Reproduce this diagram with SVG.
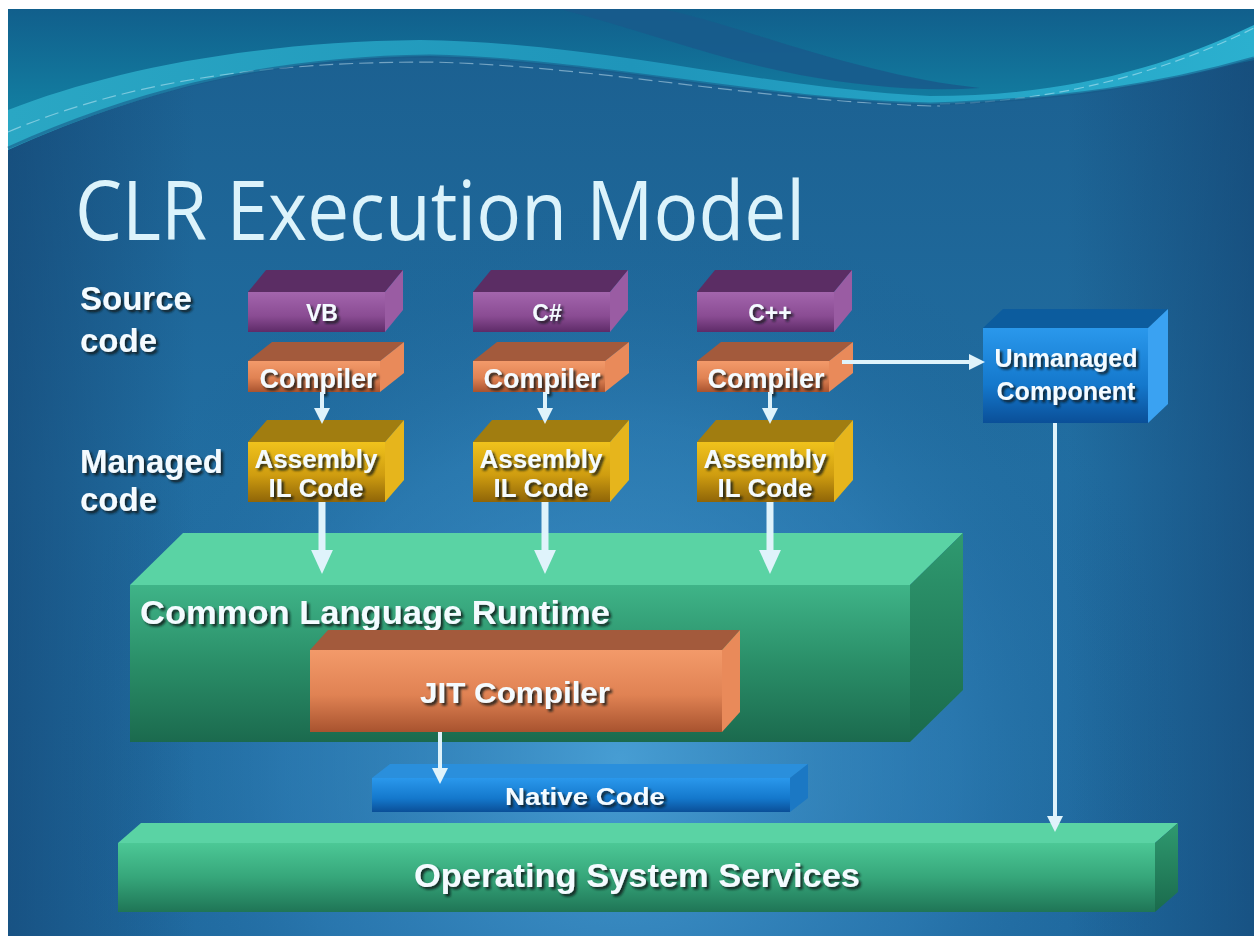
<svg xmlns="http://www.w3.org/2000/svg" width="1254" height="936" viewBox="0 0 1254 936">
<defs>
<linearGradient id="bgV" x1="0" y1="0" x2="0" y2="1">
<stop offset="0" stop-color="#1b5f8f"/><stop offset="0.5" stop-color="#216ea2"/><stop offset="1" stop-color="#1f6aa0"/>
</linearGradient>
<radialGradient id="glow" cx="620" cy="760" r="560" gradientUnits="userSpaceOnUse">
<stop offset="0" stop-color="#4ea6dc" stop-opacity="0.85"/><stop offset="0.6" stop-color="#3a8cc6" stop-opacity="0.35"/><stop offset="1" stop-color="#1b5a8a" stop-opacity="0"/>
</radialGradient>
<linearGradient id="edgeH" x1="0" y1="0" x2="1" y2="0">
<stop offset="0" stop-color="#123f6c" stop-opacity="0.55"/><stop offset="0.15" stop-color="#123f6c" stop-opacity="0"/><stop offset="0.85" stop-color="#123f6c" stop-opacity="0"/><stop offset="1" stop-color="#123f6c" stop-opacity="0.55"/>
</linearGradient>
<linearGradient id="topTeal" x1="0" y1="0" x2="0" y2="1">
<stop offset="0" stop-color="#115f8c"/><stop offset="1" stop-color="#138aa9"/>
</linearGradient>
<linearGradient id="band" x1="0" y1="0" x2="1" y2="0">
<stop offset="0" stop-color="#2aa7c4"/><stop offset="0.5" stop-color="#1f95ba"/><stop offset="1" stop-color="#2bb0cf"/>
</linearGradient>
<linearGradient id="purF" x1="0" y1="0" x2="0" y2="1"><stop offset="0" stop-color="#a365ad"/><stop offset="0.6" stop-color="#8a4c93"/><stop offset="1" stop-color="#5e2b68"/></linearGradient>
<linearGradient id="oraF" x1="0" y1="0" x2="0" y2="1"><stop offset="0" stop-color="#f39a6a"/><stop offset="0.55" stop-color="#e08253"/><stop offset="1" stop-color="#a8532f"/></linearGradient>
<linearGradient id="golF" x1="0" y1="0" x2="0" y2="1"><stop offset="0" stop-color="#f0c21c"/><stop offset="0.55" stop-color="#cf9d10"/><stop offset="1" stop-color="#8f6508"/></linearGradient>
<linearGradient id="bluF" x1="0" y1="0" x2="0" y2="1"><stop offset="0" stop-color="#2a98ec"/><stop offset="0.6" stop-color="#1478cc"/><stop offset="1" stop-color="#0a4f98"/></linearGradient>
<linearGradient id="grnF" x1="0" y1="0" x2="0" y2="1"><stop offset="0" stop-color="#3fb488"/><stop offset="0.5" stop-color="#2a8e68"/><stop offset="1" stop-color="#1b6a4e"/></linearGradient>
<linearGradient id="grnF2" x1="0" y1="0" x2="0" y2="1"><stop offset="0" stop-color="#4cc896"/><stop offset="0.5" stop-color="#36a67a"/><stop offset="1" stop-color="#1f7556"/></linearGradient>
<linearGradient id="grnS" x1="0" y1="0" x2="0" y2="1"><stop offset="0" stop-color="#2f9a70"/><stop offset="1" stop-color="#1a6a4c"/></linearGradient>
<filter id="sh" x="-10%" y="-30%" width="130%" height="160%">
<feDropShadow dx="2.5" dy="2.5" stdDeviation="0.8" flood-color="#101418" flood-opacity="0.85"/>
</filter>
<marker id="ahS" markerUnits="userSpaceOnUse" markerWidth="16" markerHeight="16" refX="0" refY="7" orient="auto" viewBox="0 0 14 14">
<path d="M0,0 L14,7 L0,14 Z" fill="#dff3fb"/>
</marker>
<marker id="ahL" markerUnits="userSpaceOnUse" markerWidth="24" markerHeight="22" refX="0" refY="10" orient="auto" viewBox="0 0 22 20">
<path d="M0,0 L22,10 L0,20 Z" fill="#dff3fb"/>
</marker>
<style>
.lbl{font-family:"Liberation Sans",Arial,sans-serif;font-weight:bold;fill:#f4fbff;filter:url(#sh)}
.side{font-size:33px}
.c{text-anchor:middle}
.conn{stroke:#dff3fb;fill:none}
.thin{stroke-width:4;marker-end:url(#ahS)}
.thick{stroke-width:7;marker-end:url(#ahL)}
.purT{fill:#5b2d64}.purS{fill:#9a5ca3}
.oraT{fill:#a35a3c}.oraS{fill:#e98a5a}
.golT{fill:#a17d10}.golS{fill:#e6b51c}
.bluT{fill:#0c5c9e}.bluS{fill:#3aa2f2}
.grnT{fill:#5ad3a4}.grnS2{fill:#2b8c66}
</style>
</defs>

<rect x="0" y="0" width="1254" height="936" fill="#ffffff"/>
<g id="background">
<rect x="8" y="9" width="1246" height="927" fill="url(#bgV)"/>
<rect x="8" y="9" width="1246" height="927" fill="url(#glow)"/>
<rect x="8" y="9" width="1246" height="927" fill="url(#edgeH)"/>
<path d="M8,9 L1254,9 L1254,60 C1160,80 1060,95 930,100 C760,95 600,50 430,48 C250,50 120,90 8,148 Z" fill="url(#topTeal)"/>
<path d="M560,9 C640,30 720,60 800,75 C860,86 920,92 980,88 C900,80 820,55 740,30 C700,18 680,12 660,9 Z" fill="#185b8c" opacity="0.9"/>
<path d="M8,110 C110,70 250,42 420,40 C600,42 760,88 930,96 C1060,96 1160,70 1254,25 L1254,58 C1160,85 1060,100 930,104 C760,100 600,60 430,56 C250,58 120,100 8,150 Z" fill="url(#band)"/>
<path d="M8,132 C130,80 270,62 430,62 C600,66 760,102 940,106" fill="none" stroke="#dff6ff" stroke-opacity="0.45" stroke-width="1.2" stroke-dasharray="14 6"/>
<path d="M940,104 C1060,102 1170,70 1254,28" fill="none" stroke="#dff6ff" stroke-opacity="0.45" stroke-width="1.2" stroke-dasharray="10 5"/>
<path d="M8,148 C120,98 250,58 430,56 C600,60 760,100 930,104 C1060,100 1160,85 1254,58" fill="none" stroke="#175a88" stroke-width="3" opacity="0.6"/>
</g>

<g id="title">
<text x="75" y="240" font-family="'Open Sans','Noto Sans',sans-serif" font-size="82" fill="#dcf3fb" textLength="730" lengthAdjust="spacingAndGlyphs">CLR Execution Model</text>
</g>

<g id="label-source">
<text class="lbl side" x="80" y="310">Source</text>
<text class="lbl side" x="80" y="352">code</text>
</g>
<g id="label-managed">
<text class="lbl side" x="80" y="473">Managed</text>
<text class="lbl side" x="80" y="511">code</text>
</g>

<g id="vb">
<polygon class="purT" points="248,292 385,292 403,270 266,270"/>
<polygon class="purS" points="385,292 403,270 403,310 385,332"/>
<rect x="248" y="292" width="137" height="40" fill="url(#purF)"/>
<text class="lbl c" x="322" y="321" font-size="23">VB</text>
</g>
<g id="cs">
<polygon class="purT" points="473,292 610,292 628,270 491,270"/>
<polygon class="purS" points="610,292 628,270 628,310 610,332"/>
<rect x="473" y="292" width="137" height="40" fill="url(#purF)"/>
<text class="lbl c" x="547" y="321" font-size="23">C#</text>
</g>
<g id="cpp">
<polygon class="purT" points="697,292 834,292 852,270 715,270"/>
<polygon class="purS" points="834,292 852,270 852,310 834,332"/>
<rect x="697" y="292" width="137" height="40" fill="url(#purF)"/>
<text class="lbl c" x="770" y="321" font-size="23">C++</text>
</g>

<g id="compiler-vb">
<polygon class="oraT" points="248,361 380,361 404,342 272,342"/>
<polygon class="oraS" points="380,361 404,342 404,373 380,392"/>
<rect x="248" y="361" width="132" height="31" fill="url(#oraF)"/>
<text class="lbl c" x="318" y="388" font-size="27">Compiler</text>
</g>
<g id="compiler-cs">
<polygon class="oraT" points="473,361 605,361 629,342 497,342"/>
<polygon class="oraS" points="605,361 629,342 629,373 605,392"/>
<rect x="473" y="361" width="132" height="31" fill="url(#oraF)"/>
<text class="lbl c" x="542" y="388" font-size="27">Compiler</text>
</g>
<g id="compiler-cpp">
<polygon class="oraT" points="697,361 829,361 853,342 721,342"/>
<polygon class="oraS" points="829,361 853,342 853,373 829,392"/>
<rect x="697" y="361" width="132" height="31" fill="url(#oraF)"/>
<text class="lbl c" x="766" y="388" font-size="27">Compiler</text>
</g>

<g id="assembly-vb">
<polygon class="golT" points="248,442 385,442 404,420 267,420"/>
<polygon class="golS" points="385,442 404,420 404,480 385,502"/>
<rect x="248" y="442" width="137" height="60" fill="url(#golF)"/>
<text class="lbl c" x="316" y="468" font-size="26">Assembly</text>
<text class="lbl c" x="316" y="497" font-size="26">IL Code</text>
</g>
<g id="assembly-cs">
<polygon class="golT" points="473,442 610,442 629,420 492,420"/>
<polygon class="golS" points="610,442 629,420 629,480 610,502"/>
<rect x="473" y="442" width="137" height="60" fill="url(#golF)"/>
<text class="lbl c" x="541" y="468" font-size="26">Assembly</text>
<text class="lbl c" x="541" y="497" font-size="26">IL Code</text>
</g>
<g id="assembly-cpp">
<polygon class="golT" points="697,442 834,442 853,420 716,420"/>
<polygon class="golS" points="834,442 853,420 853,480 834,502"/>
<rect x="697" y="442" width="137" height="60" fill="url(#golF)"/>
<text class="lbl c" x="765" y="468" font-size="26">Assembly</text>
<text class="lbl c" x="765" y="497" font-size="26">IL Code</text>
</g>

<g id="unmanaged">
<polygon class="bluT" points="983,328 1148,328 1168,309 1003,309"/>
<polygon class="bluS" points="1148,328 1168,309 1168,404 1148,423"/>
<rect x="983" y="328" width="165" height="95" fill="url(#bluF)"/>
<text class="lbl c" x="1066" y="367" font-size="25">Unmanaged</text>
<text class="lbl c" x="1066" y="400" font-size="25">Component</text>
</g>

<g id="clr">
<polygon class="grnT" points="130,585 910,585 963,533 183,533"/>
<polygon points="910,585 963,533 963,690 910,742" fill="url(#grnS)"/>
<rect x="130" y="585" width="780" height="157" fill="url(#grnF)"/>
<text class="lbl" x="140" y="624" font-size="33" textLength="470" lengthAdjust="spacingAndGlyphs">Common Language Runtime</text>
</g>

<g id="jit">
<polygon class="oraT" points="310,650 722,650 740,630 328,630"/>
<polygon class="oraS" points="722,650 740,630 740,712 722,732"/>
<rect x="310" y="650" width="412" height="82" fill="url(#oraF)"/>
<text class="lbl c" x="515" y="703" font-size="30" textLength="190" lengthAdjust="spacingAndGlyphs">JIT Compiler</text>
</g>

<g id="native">
<polygon class="bluT" points="372,778 790,778 808,764 390,764" style="fill:#2a8fdc"/>
<polygon points="790,778 808,764 808,798 790,812" fill="#1b78c4"/>
<rect x="372" y="778" width="418" height="34" fill="url(#bluF)"/>
<text class="lbl c" x="585" y="805" font-size="24" textLength="160" lengthAdjust="spacingAndGlyphs">Native Code</text>
</g>

<g id="os">
<polygon class="grnT" points="118,843 1155,843 1178,823 141,823"/>
<polygon points="1155,843 1178,823 1178,892 1155,912" fill="url(#grnS)"/>
<rect x="118" y="843" width="1037" height="69" fill="url(#grnF2)"/>
<text class="lbl c" x="637" y="887" font-size="33" textLength="446" lengthAdjust="spacingAndGlyphs">Operating System Services</text>
</g>

<g id="connectors">
<line class="conn thin" x1="322" y1="392" x2="322" y2="408"/>
<line class="conn thin" x1="545" y1="392" x2="545" y2="408"/>
<line class="conn thin" x1="770" y1="392" x2="770" y2="408"/>
<line class="conn thick" x1="322" y1="502" x2="322" y2="550"/>
<line class="conn thick" x1="545" y1="502" x2="545" y2="550"/>
<line class="conn thick" x1="770" y1="502" x2="770" y2="550"/>
<line class="conn thin" x1="842" y1="362" x2="969" y2="362"/>
<line class="conn thin" x1="1055" y1="423" x2="1055" y2="816"/>
<line class="conn thin" x1="440" y1="732" x2="440" y2="768"/>
</g>
</svg>
